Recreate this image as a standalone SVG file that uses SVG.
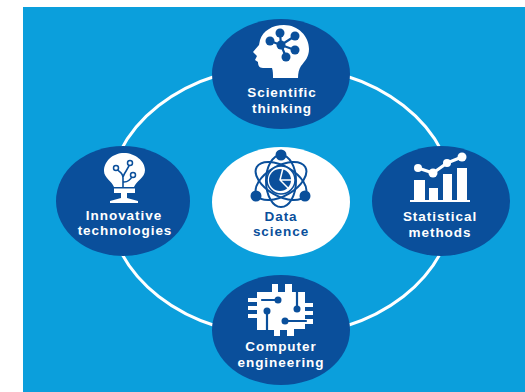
<svg xmlns="http://www.w3.org/2000/svg" width="525" height="392" viewBox="0 0 525 392">
<style>
.t{font-family:"Liberation Sans",Arial,sans-serif;font-weight:700;font-size:13.5px;fill:#fff;text-anchor:middle;letter-spacing:.95px}
.dt{fill:#0a4f9b}
.d{fill:#0a4f9b}.w{fill:#fff}
.ls{fill:none;stroke:#fff;stroke-linecap:round;stroke-linejoin:round}
.ld{fill:none;stroke:#0a4f9b;stroke-linecap:round;stroke-linejoin:round}
</style>
<rect width="525" height="392" fill="#fff"/>
<rect x="23" y="7" width="502" height="385" fill="#0b9fdc"/>
<g id="connectors"><ellipse cx="281" cy="201" rx="173" ry="135" fill="none" stroke="#fff" stroke-width="3"/></g>
<g id="scientific-thinking">
<ellipse class="d" cx="281" cy="74" rx="69" ry="55"/>
<path class="w" d="M260 40C263 31 272 25 284 25C298 25 309 36 309 49C309 57 305 61 301 66C299 69 298 73 298 78L273 78C273 74 273 71 272 68L263 68C259 68 258 65 258 62L255 60L257 56L253 52L259 45Z"/>
<g class="ld" stroke-width="2.200"><path d="M281 45L280 33M281 45L270 41M281 45L295 36M281 45L295 50M281 45L286 57"/></g>
<g class="d"><circle cx="281" cy="45" r="4.500"/><circle cx="280" cy="33" r="4.500"/><circle cx="270" cy="41" r="4.500"/><circle cx="295" cy="36" r="4.500"/><circle cx="295" cy="50" r="4.500"/><circle cx="286" cy="57" r="4.500"/></g>
<text class="t" x="282" y="97">Scientific</text><text class="t" x="282" y="113">thinking</text>
</g>
<g id="innovative-technologies">
<ellipse class="d" cx="123" cy="201" rx="67" ry="55"/>
<path class="w" d="M124 153C113 153 104 161 104 171C104 178 112 181 114 187H134C136 181 145 178 145 170C145 161 135 153 124 153Z"/>
<path class="w" d="M114 188.500H135V193H127V198L138 201V203H110V201L121 198V193H114Z"/>
<g class="ld" stroke-width="1.600"><path d="M123 187V178C123 172 118 172 116 168M123 177C125 171 128 170 130 163M124 182C128 182 131 179 133 175"/></g>
<g fill="#fff" stroke="#0a4f9b" stroke-width="1.500"><circle cx="116" cy="168" r="2.500"/><circle cx="130" cy="163" r="2.500"/><circle cx="133" cy="175" r="2.500"/></g>
<text class="t" x="124" y="220">Innovative</text><text class="t" x="125" y="235">technologies</text>
</g>
<g id="data-science">
<ellipse class="w" cx="281" cy="202" rx="69" ry="55"/>
<g class="ld" stroke-width="2">
<ellipse cx="281" cy="181" rx="15" ry="26"/>
<ellipse cx="281" cy="181" rx="15" ry="28" transform="rotate(60 281 181)"/>
<ellipse cx="281" cy="181" rx="15" ry="28" transform="rotate(-60 281 181)"/>
</g>
<circle class="d" cx="281" cy="155" r="5.500"/><circle class="d" cx="256" cy="196" r="5.500"/><circle class="d" cx="305" cy="196" r="5.500"/>
<circle class="w" cx="281" cy="180" r="14"/>
<circle class="ld" stroke-width="1.500" cx="281" cy="180" r="14"/>
<circle class="d" cx="280" cy="180" r="11"/>
<path class="ls" stroke-width="1.500" d="M280 180L283 168M280 180H292M280 180L288 188"/>
<text class="t dt" x="281" y="221">Data</text><text class="t dt" x="281" y="236">science</text>
</g>
<g id="statistical-methods">
<ellipse class="d" cx="441" cy="201" rx="69" ry="55"/>
<g class="w"><rect x="414" y="180" width="11" height="20"/><rect x="429" y="188" width="9" height="12"/><rect x="443" y="174" width="9" height="26"/><rect x="457" y="168" width="10" height="32"/><rect x="410" y="200" width="60" height="2"/></g>
<path class="ls" stroke-width="3" d="M418 168L433 173L447 163L462 157"/>
<g class="w"><circle cx="418" cy="168" r="4"/><circle cx="433" cy="173" r="4.500"/><circle cx="447" cy="163" r="4"/><circle cx="462" cy="157" r="4.500"/></g>
<text class="t" x="440" y="221">Statistical</text><text class="t" x="440" y="237">methods</text>
</g>
<g id="computer-engineering">
<ellipse class="d" cx="281" cy="330" rx="69" ry="55"/>
<path class="w" d="M257 292H272V284H278V292H285V284H292V292H305V303H313V307H305V311H313V315H305V319H313V324H305V329H294V336H287V330H280V336H274V330H257V318H248V314H257V310H248V306H257V302H248V298H257Z"/>
<g class="ld" stroke-width="2.200"><path d="M262 300H278M297 290V309M267 311V333M285 321H306"/></g>
<g class="d"><circle cx="278" cy="300" r="3.500"/><circle cx="297" cy="309" r="3.500"/><circle cx="267" cy="311" r="3.500"/><circle cx="285" cy="321" r="3.500"/></g>
<text class="t" x="281" y="351">Computer</text><text class="t" x="281" y="367">engineering</text>
</g>
</svg>
